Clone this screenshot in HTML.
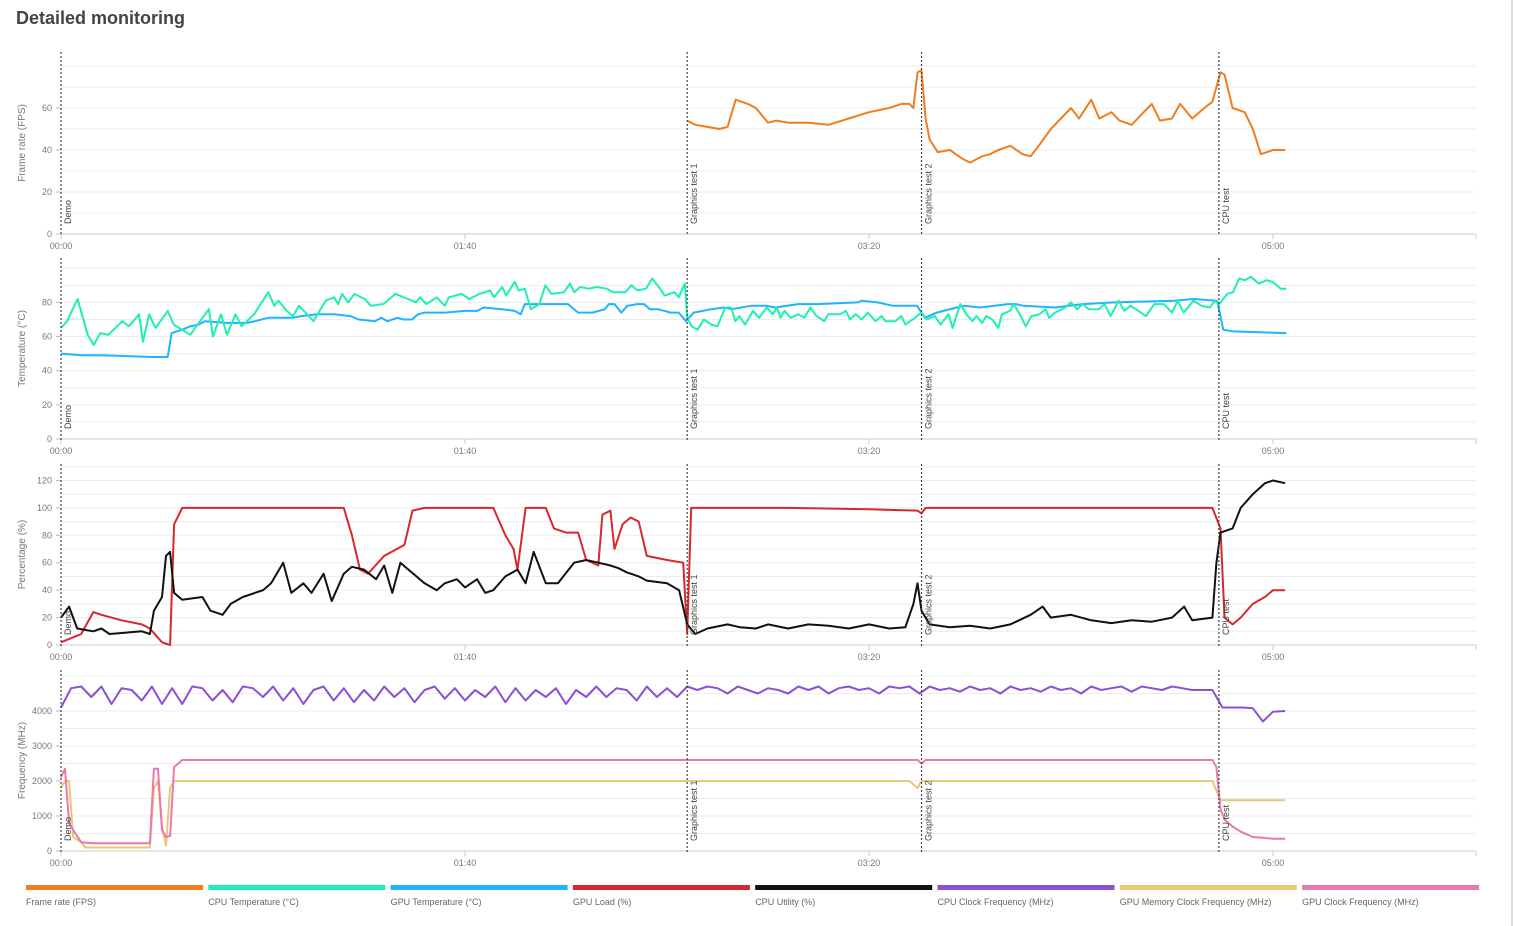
<!DOCTYPE html>
<html><head><meta charset="utf-8">
<style>
body{margin:0;background:#fff;width:1513px;height:926px;overflow:hidden;font-family:"Liberation Sans",sans-serif;}
#title{position:absolute;left:16px;top:8px;font-size:18px;font-weight:bold;color:#444;}
#edge{position:absolute;left:1511px;top:0;width:2px;height:926px;background:#ddd;}
svg{position:absolute;left:0;top:0;}
</style></head>
<body>
<div id="title">Detailed monitoring</div>
<div id="edge"></div>
<svg id="chart" width="1513" height="926"></svg>
<script>
// ---- data ----
const xTickLabels=["00:00","01:40","03:20","05:00"];
const xTickTimes=[0,100,200,300];
const eventNames=["Demo","Graphics test 1","Graphics test 2","CPU test"];
const eventTimes=[0,155,213,286.6];

const fpsTimes=[155,157,160,163,165,167,170,172,175,177,180,185,190,195,200,205,208,210,211,212,213,214,215,217,220,223,225,228,230,232,235,238,240,242,245,247,250,252,255,257,260,262,265,267,270,272,275,277,280,283,285,287,288,290,293,295,297,300,303];
const fpsValues=[54,52,51,50,51,64,62,60,53,54,53,53,52,55,58,60,62,62,60,77,78,55,45,39,40,36,34,37,38,40,42,38,37,42,50,54,60,55,64,55,58,54,52,56,62,54,55,62,55,60,63,77,76,60,58,50,38,40,40];

const cpuTempTimes=[0,1.5,4.1,6.6,8.1,9.7,11.7,15.2,16.8,19.3,20.3,21.8,23.4,26.4,27.9,32,33.5,36.6,37.6,39.6,41.1,43.2,44.7,47.8,51.3,52.8,53.8,55.9,57.4,58.9,62.5,65.5,67.6,68.6,69.6,71.1,72.6,75.2,76.7,79.8,82.8,85.9,87.9,88.9,90.4,93,95,96,99.1,101.1,103.6,106.2,107.2,109.2,110.2,112.3,113.3,114.8,116.3,118.4,119.9,121.4,124.5,126,127,128.5,130.6,132.6,135.1,136.6,139.7,141.2,142.7,144.8,146.3,148.3,149.4,151.9,152.9,154.4,155,156.1,157.6,159.1,161,162.5,164.4,165.9,166.9,167.9,169.3,171.3,172.8,174.7,176.2,177.2,178.1,179.1,180.6,182.5,184,185.5,187,188.9,189.9,192.8,194.3,195.3,196.7,198.2,199.7,201.6,203.1,204.1,206.5,208,209,211.4,212.9,214.3,216.3,217.7,219.7,220.7,222.6,224.1,225.6,226.6,228,229,230.5,232,232.9,234.9,235.8,237.3,238.8,240.2,242.2,243.7,244.6,246.1,248.6,250,251.5,252.9,254.4,256.9,258.3,259.8,261.8,263.2,264.7,266.7,268.6,270.6,273,275,276.4,277.9,280.3,282.3,284.3,285.7,286.7,288.7,290.1,291.6,293.1,294.5,296.5,298.4,299.9,301.9,303.3];
const cpuTemp=[65,69,82,61,55,62,61,69,66,73,57,73,65,75,67,61,66,76,60,73,61,73,66,73,86,78,81,75,72,78,69,81,83,79,85,80,85,82,78,79,85,82,80,83,79,83,78,83,85,82,85,87,83,89,84,92,87,88,76,79,90,85,86,91,86,89,88,89,88,86,86,90,87,88,94,88,84,86,83,91,71,66,64,70,67,66,77,77,69,72,67,75,71,77,73,77,71,75,71,73,71,77,72,69,73,73,75,70,73,70,74,69,72,69,69,72,67,71,74,70,72,67,73,65,79,73,69,72,68,72,70,65,73,75,79,73,66,72,73,76,71,74,77,80,76,79,76,76,79,72,81,75,78,75,72,79,79,74,81,74,81,78,77,81,79,85,86,94,93,95,91,93,92,88,88];
const gpuTempTimes=[0,5,10,22.8,26.4,27.4,30,32,34,35.6,41,46,48,51.3,57.4,59.4,63.5,67.6,71.6,73.7,77.7,79.3,80.8,83.3,84.8,86.9,88.4,90,95,100,103,104.6,109.2,112.3,113.8,114.8,125.5,128,131.6,134.6,135.6,137,138.7,140.2,142.7,144.3,145.8,147.8,150.9,152.9,154.7,156.6,161,164,166,170.8,174.7,176.7,182.5,187.4,197.2,198.2,202.1,206,211.9,213.8,216.8,221.7,223.6,227.5,234.4,236.3,238.3,246.1,252.9,260.8,275.5,280.3,286.2,287.7,290.1,303.3];
const gpuTemp=[50,49,49,48,48,62,64,66,67,69,68,68,69,71,71,72,73,73,72,70,69,71,69,71,70,70,73,74,74,75,75,77,76,75,73,79,79,74,74,76,79,79,74,78,79,79,76,76,74,74,69,74,76,77,76,78,78,77,79,79,80,81,80,78,78,71,74,77,78,77,79,79,78,77,79,80,81,82,81,64,63,62];

const gpuLoadTimes=[0,5,8,10,15,20,22,25,27,28,30,70,72,74,76,80,85,87,90,107,110,112,113,115,120,122,125,128,130,133,134,136,137,139,141,143,145,150,154,155,156,180,200,212,213,214,250,285,287,288,290,292,295,298,300,303];
const gpuLoad=[2,8,24,22,18,15,12,2,0,88,100,100,80,55,52,65,73,98,100,100,80,70,55,100,100,85,82,82,62,58,95,98,70,88,93,90,65,62,60,8,100,100,99,98,96,100,100,100,85,20,15,20,30,35,40,40];

const cpuUtilTimes=[0,2,4,8,10,12,20,22,23,25,26,27,28,30,35,37,40,42,45,50,52,55,57,60,62,65,67,70,72,75,78,80,82,84,86,90,93,95,98,100,103,105,107,110,113,115,117,120,123,127,130,133,136,138,140,143,145,150,153,155,157,160,165,168,172,175,180,185,190,195,200,205,209,211,212,213,215,220,225,230,235,240,243,245,250,255,260,265,270,275,278,280,285,286,287,290,292,295,298,300,303];
const cpuUtil=[20,28,12,10,12,8,10,8,25,35,65,68,38,33,35,25,22,30,35,40,45,60,38,45,38,52,32,52,57,55,48,58,38,60,55,45,40,45,48,42,48,38,40,50,55,45,68,45,45,60,62,60,58,56,53,50,47,45,40,15,8,12,15,13,12,15,12,15,14,12,15,12,13,30,45,25,15,13,14,12,15,22,28,20,22,18,16,18,17,20,28,18,20,60,82,85,100,110,118,120,118];

const clockTimes=[0,2.5,5,7.5,10,12.5,15,17.5,20,22.5,25,27.5,30,32.5,35,37.5,40,42.5,45,47.5,50,52.5,55,57.5,60,62.5,65,67.5,70,72.5,75,77.5,80,82.5,85,87.5,90,92.5,95,97.5,100,102.5,105,107.5,110,112.5,115,117.5,120,122.5,125,127.5,130,132.5,135,137.5,140,142.5,145,147.5,150,152.5,155,157.5,160,162.5,165,167.5,170,172.5,175,177.5,180,182.5,185,187.5,190,192.5,195,197.5,200,202.5,205,207.5,210,212.5,215,217.5,220,222.5,225,227.5,230,232.5,235,237.5,240,242.5,245,247.5,250,252.5,255,257.5,260,262.5,265,267.5,270,272.5,275,277.5,280,282.5,285,287.5,290,292.5,295,297.5,300,303];
const cpuClock=[4100,4650,4700,4400,4700,4200,4650,4600,4300,4700,4200,4650,4200,4700,4650,4300,4600,4250,4700,4650,4400,4700,4300,4650,4200,4600,4700,4300,4650,4250,4600,4300,4700,4400,4650,4250,4600,4700,4350,4650,4300,4600,4400,4700,4250,4650,4300,4600,4400,4650,4200,4600,4400,4700,4400,4650,4600,4300,4700,4400,4650,4400,4700,4600,4700,4650,4500,4700,4600,4500,4650,4600,4500,4700,4600,4700,4500,4650,4700,4600,4650,4500,4700,4650,4700,4500,4700,4600,4650,4550,4700,4600,4650,4500,4700,4600,4650,4550,4700,4600,4650,4500,4700,4600,4650,4700,4550,4700,4650,4600,4700,4650,4600,4600,4600,4100,4100,4100,4080,3700,3980,4000];

const memClockTimes=[0,1,2,3,5,6,10,22,23,24,25,26,27,28,30,100,200,210,212,213,250,285,287,290,303];
const memClock=[1800,2000,2000,400,250,100,100,100,1800,2000,700,150,1800,2000,2000,2000,2000,2000,1800,2000,2000,2000,1450,1450,1450];
const gpuClockTimes=[0,1,2,3,5,8,22,23,24,25,26,27,28,30,100,200,212,213,214,285,286,287,288,290,292,295,300,303];
const gpuClock=[2100,2350,800,600,250,220,220,2350,2350,600,400,430,2400,2600,2600,2600,2600,2500,2600,2600,2400,1200,900,700,550,400,350,350];

// ---- layout ----
const svg=document.getElementById('chart');
const NS='http://www.w3.org/2000/svg';
const X0=61,XPX=4.04,XEND=1476;
function xs(t){return X0+t*XPX;}
function el(tag,attrs,parent){const e=document.createElementNS(NS,tag);for(const k in attrs)e.setAttribute(k,attrs[k]);(parent||svg).appendChild(e);return e;}

const panels=[
 {name:'frame-rate',title:'Frame rate (FPS)',top:52,base:234,max:86.7,grid:10,label:20,labelMax:60,series:[[fpsTimes,fpsValues,'#f07d1e']]},
 {name:'temperature',title:'Temperature (°C)',top:258,base:439,max:106,grid:10,label:20,labelMax:80,series:[[gpuTempTimes,gpuTemp,'#1eb4ff'],[cpuTempTimes,cpuTemp,'#1ef0b4']]},
 {name:'percentage',title:'Percentage (%)',top:464,base:645,max:132,grid:10,label:20,labelMax:120,series:[[gpuLoadTimes,gpuLoad,'#d7282d'],[cpuUtilTimes,cpuUtil,'#111']]},
 {name:'frequency',title:'Frequency (MHz)',top:670,base:851,max:5171,grid:500,label:1000,labelMax:4000,series:[[clockTimes,cpuClock,'#8c50d2'],[memClockTimes,memClock,'#e6c878'],[gpuClockTimes,gpuClock,'#eb78aa']]}
];

panels.forEach(p=>{
 const g=el('g',{});
 
 
 const ys=v=>p.base-v*(p.base-p.top)/p.max;
 for(let v=p.grid;v<=p.max;v+=p.grid){
  el('line',{x1:X0,x2:XEND,y1:ys(v),y2:ys(v),stroke:'#ececec','stroke-width':1},g);
 }
 for(let v=0;v<=p.labelMax;v+=p.label){
  el('line',{x1:X0-5,x2:X0,y1:ys(v),y2:ys(v),stroke:'#bbb'},g);
  const t=el('text',{x:X0-9,y:ys(v)+3,'text-anchor':'end','font-size':9,fill:'#777'},g);t.textContent=v;
 }
 el('line',{x1:X0,x2:XEND,y1:p.base,y2:p.base,stroke:'#ccc'},g);
 el('line',{x1:XEND,x2:XEND,y1:p.base,y2:p.base+5,stroke:'#ccc'},g);
 xTickTimes.forEach((tt,i)=>{
  el('line',{x1:xs(tt),x2:xs(tt),y1:p.base,y2:p.base+5,stroke:'#ccc'},g);
  const t=el('text',{x:xs(tt),y:p.base+15,'text-anchor':'middle','font-size':9,fill:'#777'},g);t.textContent=xTickLabels[i];
 });
 const yt=el('text',{transform:`translate(25,${(p.top+p.base)/2}) rotate(-90)`,'text-anchor':'middle','font-size':10,fill:'#777'},g);
 yt.textContent=p.title;
 
 
 p.series.forEach(s=>{
  const d=s[0].map((t,i)=>(i?'L':'M')+xs(t).toFixed(1)+','+ys(s[1][i]).toFixed(1)).join('');
  const path=el('path',{d:d,fill:'none',stroke:s[2],'stroke-width':2,'stroke-linejoin':'round'},g);
  
  
 });
 eventTimes.forEach((et,i)=>{
  const m=el('line',{x1:xs(et),x2:xs(et),y1:p.top,y2:p.base+1,stroke:'#444','stroke-dasharray':'2,2','stroke-width':1.2},g);
  
  
  const t=el('text',{transform:`translate(${xs(et)+10},${p.base-10}) rotate(-90)`,'font-size':9,fill:'#444'},g);
  t.textContent=eventNames[i];
 });
});

// legend
const legNames=["Frame rate (FPS)","CPU Temperature (°C)","GPU Temperature (°C)","GPU Load (%)","CPU Utility (%)","CPU Clock Frequency (MHz)","GPU Memory Clock Frequency (MHz)","GPU Clock Frequency (MHz)"];
const legColors=['#f07d1e','#1ef0b4','#1eb4ff','#d7282d','#111','#8c50d2','#e6c878','#eb78aa'];
legNames.forEach((n,i)=>{
 const g=el('g',{});
 
 
 const x=26+i*182.3;
 el('rect',{x:x,y:885,width:177,height:5,fill:legColors[i]},g);
 const t=el('text',{x:x,y:905,'font-size':9,fill:'#666'},g);t.textContent=n;
});
</script>
</body></html>
